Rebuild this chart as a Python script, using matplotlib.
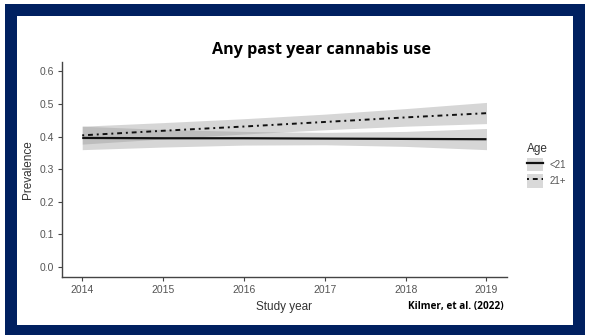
import matplotlib.pyplot as plt
from matplotlib.patches import Rectangle, Patch
from matplotlib.lines import Line2D

years = [2014, 2015, 2016, 2017, 2018, 2019]

# <21 group: fitted line and 95% band
under21 = [0.396, 0.395, 0.395, 0.394, 0.393, 0.392]
under21_lo = [0.360, 0.368, 0.374, 0.375, 0.370, 0.360]
under21_hi = [0.432, 0.422, 0.416, 0.413, 0.416, 0.425]

# 21+ group
over21 = [0.404, 0.418, 0.431, 0.445, 0.459, 0.472]
over21_lo = [0.377, 0.393, 0.408, 0.421, 0.432, 0.440]
over21_hi = [0.432, 0.443, 0.455, 0.469, 0.486, 0.505]

y_ticks = [0.0, 0.1, 0.2, 0.3, 0.4, 0.5, 0.6]

W, H = 589, 335
navy = '#002060'
band = '#999999'
txt_gray = '#555555'
dotdash = (0, (1, 2, 2.5, 2))

fig = plt.figure(figsize=(W / 100, H / 100), dpi=100)
fig.patch.set_facecolor('white')


def px_rect(x0, y0, x1, y1, color):
    # rectangle given in pixel coords (origin top-left)
    fig.patches.append(Rectangle((x0 / W, 1 - y1 / H), (x1 - x0) / W, (y1 - y0) / H,
                                 transform=fig.transFigure, facecolor=color,
                                 edgecolor='none', zorder=-10))


px_rect(5, 4, 585, 335, navy)
px_rect(17, 16, 573, 325, 'white')

ax = fig.add_axes([62 / W, 1 - 276.7 / H, (506.7 - 62) / W, (276.7 - 61.7) / H])
ax.set_facecolor('white')

ax.fill_between(years, under21_lo, under21_hi, color=band, alpha=0.4, linewidth=0)
ax.fill_between(years, over21_lo, over21_hi, color=band, alpha=0.4, linewidth=0)
ax.plot(years, under21, color='#111111', lw=1.6, solid_capstyle='butt')
ax.plot(years, over21, color='#111111', lw=1.4, linestyle=dotdash)

ax.set_xlim(2013.75, 2019.25)
ax.set_ylim(-0.03, 0.63)
ax.set_xticks(years)
ax.set_yticks(y_ticks)
ax.set_yticklabels([f'{v:.1f}' for v in y_ticks])
for s in ['top', 'right']:
    ax.spines[s].set_visible(False)
for s in ['left', 'bottom']:
    ax.spines[s].set_color('#444444')
    ax.spines[s].set_linewidth(1.0)
ax.tick_params(length=3, width=0.8, color='#444444', labelcolor=txt_gray,
               labelsize=7.5, pad=3)
for lab in ax.get_xticklabels() + ax.get_yticklabels():
    lab.set_family('Liberation Sans')

ax.set_xlabel('Study year', family='Liberation Sans', fontsize=8.5, color='#333333', labelpad=4)
ax.set_ylabel('Prevalence', family='Liberation Sans', fontsize=8.5, color='#333333', labelpad=4)

fig.text(321 / W, 1 - 50 / H, 'Any past year cannabis use', ha='center', va='center',
         family='Open Sans', fontweight='bold', fontsize=11.6, color='black')
fig.text(504 / W, 1 - 306 / H, 'Kilmer, et al. (2022)', ha='right', va='center',
         family='Open Sans', fontweight='bold', fontsize=7.2, color='black')

handles = [
    (Patch(facecolor='#d9d9d9', edgecolor='none'), Line2D([], [], color='#111111', lw=1.6)),
    (Patch(facecolor='#d9d9d9', edgecolor='none'),
     Line2D([], [], color='#111111', lw=1.4, linestyle=dotdash)),
]
leg = fig.legend(handles, ['<21', '21+'], title='Age', loc='upper left',
                 bbox_to_anchor=(522 / W, 1 - 138 / H), frameon=False,
                 prop={'family': 'Liberation Sans', 'size': 7},
                 title_fontproperties={'family': 'Liberation Sans', 'size': 8.5},
                 handlelength=1.7, handleheight=1.75, labelspacing=0.3,
                 handletextpad=0.6, borderpad=0)
leg.get_title().set_color('#333333')
leg._legend_box.align = 'left'
for t in leg.get_texts():
    t.set_color(txt_gray)

fig.savefig('out.png', dpi=100)
